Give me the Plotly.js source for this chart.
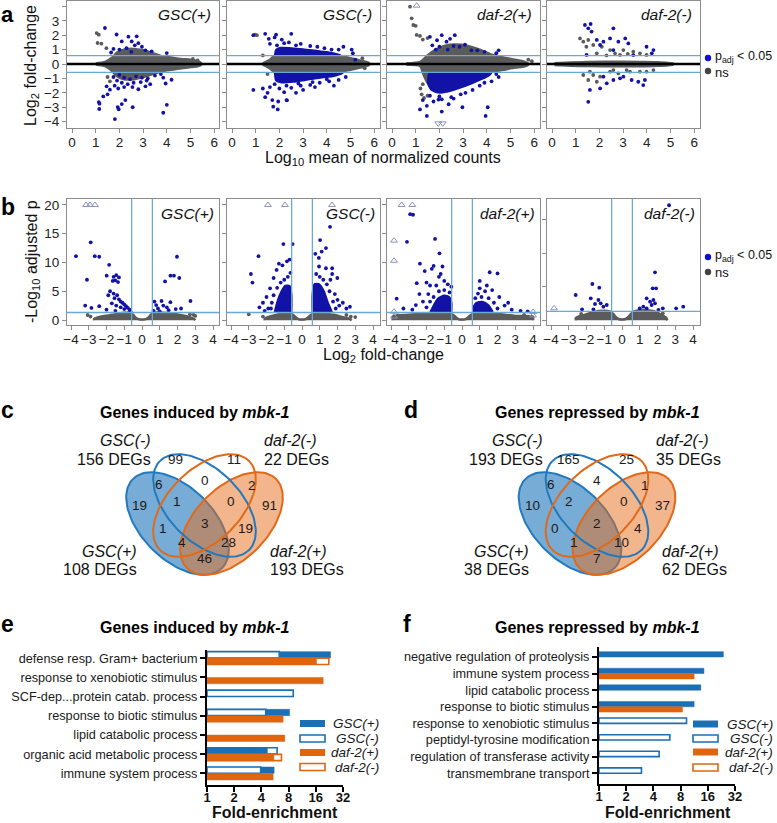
<!DOCTYPE html>
<html><head><meta charset="utf-8">
<script src="https://cdn.plot.ly/plotly-3.0.1.min.js"></script>
<style>body{margin:0;background:#fff}#chart{width:777px;height:823px}</style>
</head><body><div id="chart"></div>
<script>
// ---------------- DATA ----------------
const panelNames = ['GSC(+)', 'GSC(-)', 'daf-2(+)', 'daf-2(-)'];
const maTicks = [0, 1, 2, 3, 4, 5, 6];
const volcTicks = [-4, -3, -2, -1, 0, 1, 2, 3, 4];
const lfcCut = 0.585, padjCut = 1.301;

// MA plots: dense non-significant clouds (outline of the cloud), ns outliers, significant points
const maGscPlusCloud = [[1.0,0.04],[1.4,0.15],[1.7,0.45],[1.9,0.8],[2.2,1.0],[2.6,1.05],[3.0,0.95],[3.4,0.75],[3.8,0.55],[4.2,0.45],[4.6,0.35],[5.0,0.3],[5.3,0.2],[5.45,0.05],[5.45,-0.05],[5.3,-0.15],[5.0,-0.2],[4.6,-0.3],[4.2,-0.4],[3.8,-0.5],[3.4,-0.7],[3.0,-0.9],[2.6,-1.05],[2.2,-1.05],[1.9,-0.85],[1.7,-0.5],[1.4,-0.15],[1.0,-0.04]];
const maGscPlusNs = [[1.04,2.15],[1.13,2.04],[1.08,1.46],[1.24,1.41],[1.45,1.1],[1.6,-1.2],[1.5,-0.9],[5.1,0.35],[5.3,0.25]];
const maGscPlusSig = [[1.39,2.5],[1.88,2.05],[2.38,1.9],[2.73,1.92],[2.1,1.57],[2.52,1.57],[2.8,1.45],[2.65,1.3],[2.95,1.2],[1.75,1.05],[2.0,1.0],[2.3,1.1],[3.36,0.88],[4.0,0.76],[3.1,0.95],[2.5,0.85],[1.65,0.8],
 [1.75,-0.9],[2.0,-0.75],[2.2,-0.95],[2.45,-1.05],[2.7,-0.85],[2.95,-0.95],[3.2,-1.0],[3.5,-0.8],[3.75,-0.7],[2.1,-1.3],[2.35,-1.4],[2.6,-1.3],[2.9,-1.25],[3.15,-1.15],[3.3,-1.4],[3.85,-0.95],[1.9,-1.15],[4.2,-1.09],
 [1.46,-1.55],[1.6,-1.78],[1.8,-1.5],[1.95,-1.7],[2.2,-1.6],[2.55,-1.6],[2.8,-1.75],[3.1,-1.55],[3.95,-1.35],
 [1.32,-2.25],[1.5,-2.1],[1.13,-2.64],[1.16,-2.75],[1.15,-3.12],[1.93,-2.99],[1.97,-3.14],[2.1,-2.78],[2.25,-2.5],[2.56,-3.0],[3.85,-3.38],[4.0,-2.83],[1.81,-3.82]];

const maGscMinusCloud = [[1.3,0.04],[1.6,0.3],[1.8,0.58],[2.5,0.62],[3.5,0.62],[4.5,0.55],[5.0,0.4],[5.4,0.25],[5.75,0.1],[5.8,0.02],[5.8,-0.02],[5.75,-0.1],[5.4,-0.25],[5.0,-0.4],[4.5,-0.55],[3.5,-0.62],[2.5,-0.62],[1.8,-0.58],[1.6,-0.3],[1.3,-0.04]];
const maGscMinusSigBands = [
 [[1.8,0.62],[1.85,1.0],[2.05,1.15],[2.5,1.12],[3.0,1.05],[3.5,0.95],[4.0,0.85],[4.4,0.72],[4.6,0.62]],
 [[1.8,-0.62],[1.85,-1.15],[2.1,-1.3],[2.6,-1.25],[3.2,-1.1],[3.8,-0.95],[4.3,-0.85],[4.6,-0.7],[4.7,-0.62]]];
const maGscMinusNs = [[0.98,2.04],[1.05,2.0],[1.3,0.6],[1.5,-0.7],[5.5,0.4],[5.6,-0.3]];
const maGscMinusSig = [[0.9,2.0],[1.4,2.1],[1.86,2.04],[2.5,2.1],[1.55,1.75],[1.8,1.85],[2.1,1.7],[2.4,1.5],[2.9,1.4],[3.3,1.25],[3.9,1.1],[4.5,1.0],[5.05,1.0],[5.1,0.75],[5.2,0.3],[4.7,1.2],[1.6,1.4],[2.2,1.45],[2.7,1.3],[3.6,1.2],[4.2,1.0],[1.9,1.3],
 [0.9,-1.8],[1.3,-1.7],[1.4,-2.3],[1.7,-2.5],[1.95,-2.6],[2.3,-2.5],[1.74,-2.96],[1.93,-3.15],[2.32,-2.52],[1.6,-1.6],[2.0,-1.7],[2.5,-1.65],[2.9,-1.5],[3.3,-1.45],[3.7,-1.3],[4.1,-1.2],[4.5,-1.1],[2.7,-2.0],[2.2,-1.95],[3.0,-1.8],[3.5,-1.6],[4.3,-1.5],[4.8,-0.9],[1.5,-2.0],[1.8,-1.4],[2.3,-1.5],[2.8,-1.35],[3.4,-1.25],[4.0,-1.05]];

const maDafPlusCloud = [[0.6,0.04],[1.2,0.15],[1.5,0.6],[1.8,0.95],[2.2,1.25],[2.7,1.35],[3.2,1.25],[3.7,1.0],[4.2,0.65],[4.7,0.45],[5.2,0.3],[5.6,0.15],[5.75,0.03],[5.75,-0.03],[5.6,-0.15],[5.2,-0.25],[4.7,-0.4],[4.2,-0.55],[3.7,-0.7],[3.2,-0.9],[2.7,-1.1],[2.2,-1.3],[1.8,-1.5],[1.5,-1.3],[1.3,-0.6],[1.2,-0.15],[0.6,-0.04]];
const maDafPlusSigBands = [[[1.55,-0.62],[1.5,-1.3],[1.65,-1.8],[1.95,-2.0],[2.3,-1.95],[2.8,-1.7],[3.3,-1.4],[3.8,-1.05],[4.1,-0.8],[4.2,-0.62]]];
const maDafPlusNs = [[0.76,3.98],[0.83,3.17],[0.9,2.71],[1.0,2.65],[1.04,2.02],[1.18,1.95],[1.3,1.7],[1.5,1.8],[1.2,-1.7],[1.25,-2.1],[1.35,-2.35],[1.5,-2.2],[1.3,-1.4],[5.75,0.3],[5.9,0.2]];
const maDafPlusSig = [[1.6,1.89],[2.1,2.0],[2.65,2.0],[2.3,1.55],[1.9,1.65],[2.45,1.75],[3.08,1.34],[2.85,1.2],[2.6,1.25],[3.35,0.95],[3.6,0.95],[4.4,0.75],[4.5,0.95],[2.0,1.2],[2.35,1.0],[1.85,1.0],[3.9,0.85],[1.7,1.3],
 [1.18,-3.15],[1.47,-2.9],[1.47,-3.6],[1.96,-2.47],[2.1,-2.45],[2.1,-3.3],[2.39,-2.79],[2.97,-3.0],[3.95,-3.6],[4.04,-3.0],[1.3,-2.5],[1.75,-2.6],[2.6,-2.4],[3.1,-2.0],[3.4,-1.8],[3.7,-1.5],[4.2,-1.2],[4.5,-0.9],[2.5,-2.3],[1.6,-2.2],[2.0,-2.25],[2.9,-2.1],[3.9,-1.3],[4.4,-0.7]];
const maDafPlusOffUp = [[1.04,4.05]];
const maDafPlusOffDown = [[1.95,-4.12],[2.14,-4.12]];

const maDafMinusCloud = [[0.1,0.06],[1.5,0.14],[3.0,0.16],[4.5,0.12],[5.1,0.04],[5.1,-0.04],[4.5,-0.12],[3.0,-0.16],[1.5,-0.14],[0.1,-0.06]];
const maDafMinusNs = [[1.18,1.78],[1.32,1.55],[1.53,1.67],[1.74,1.32],[2.1,1.2],[2.45,0.97],[2.66,0.74],[3.01,0.97],[3.43,0.86],[3.71,0.74],[3.99,0.63],[2.87,0.63],[1.89,0.74],[1.32,-0.76],[1.6,-0.53],[1.74,-0.76],[2.03,-0.88],[2.45,-0.53],[2.8,-0.65],[3.29,-0.53],[3.71,-0.53],[3.99,-0.53],[4.28,-0.42],[1.53,-1.11],[1.89,-1.23],[2.59,-0.42],[3.15,-0.42],[2.3,0.6],[3.2,0.7],[1.45,1.2]];
const maDafMinusSig = [[1.39,2.71],[1.53,2.48],[1.63,2.78],[1.67,2.25],[2.59,2.48],[1.89,1.67],[2.17,1.55],[2.45,1.78],[2.8,1.55],[3.09,1.78],[3.22,1.43],[2.03,1.32],[3.99,1.2],[4.28,0.97],[4.21,0.74],[3.43,0.62],[1.46,0.63],[2.59,0.97],
 [1.6,-1.8],[2.03,-1.69],[2.31,-1.34],[2.59,-1.11],[2.87,-0.99],[3.36,-1.11],[3.64,-1.23],[3.85,-1.46],[3.92,-1.11],[1.53,-2.62],[3.01,-0.88],[2.17,-0.88]];

// Volcano plots
const vGscPlusCloud = [[-2.7,-0.05],[-2.7,0.2],[-2.5,0.45],[-2.0,0.75],[-1.5,1.0],[-1.0,1.25],[-0.7,1.3],[-0.5,0.9],[-0.35,0.4],[-0.2,0.15],[0,0.07],[0.2,0.15],[0.35,0.4],[0.5,0.9],[0.7,1.3],[1.2,1.25],[1.8,1.1],[2.3,0.8],[2.7,0.5],[2.95,0.15],[3.0,-0.05]];
const vGscPlusNs = [[-3.06,0.87],[-2.9,0.6],[2.9,0.9],[3.0,0.7],[2.7,1.0]];
const vGscPlusSig = [[-3.72,11.1],[-2.89,13.5],[-2.66,11.1],[-2.41,11.0],[-3.1,7.0],[-1.85,9.6],[-1.99,7.7],[-1.6,7.5],[-1.45,7.8],[-1.3,7.4],[-1.65,6.8],[-1.5,6.9],[-1.35,6.6],[-1.8,5.0],[-1.6,4.6],[-1.4,4.3],[-1.55,3.8],[-1.3,3.6],[-1.2,3.2],[-1.1,3.0],[-1.0,2.7],[-0.9,2.4],[-0.8,2.1],[-0.7,1.8],[-1.7,2.9],[-1.45,2.5],[-1.2,2.2],[-1.0,1.9],[-0.65,1.5],[-1.9,4.3],[-3.2,2.5],[-2.85,2.1],[-2.41,2.4],[-2.0,1.8],[-1.5,1.6],
 [1.3,6.7],[1.6,7.7],[1.8,7.7],[2.1,7.3],[1.97,11.0],[2.73,3.3],[0.7,3.2],[0.8,2.6],[0.9,2.0],[1.1,3.3],[1.2,2.5],[1.4,2.2],[1.6,3.1],[1.5,1.7],[0.65,1.6],[1.9,1.9],[2.2,2.0],[1.0,1.5]];
const vGscPlusOff = [[-3.15,20],[-2.93,20],[-2.65,20]];

const vGscMinusCloud = [[-2.1,-0.05],[-2.1,0.2],[-1.8,0.6],[-1.3,1.0],[-0.8,1.25],[-0.55,1.0],[-0.35,0.5],[-0.2,0.15],[0,0.07],[0.2,0.15],[0.35,0.5],[0.55,1.0],[0.8,1.25],[1.3,1.1],[1.8,0.9],[2.3,0.5],[2.7,0.2],[2.8,-0.05]];
const vGscMinusSigBands = [
 [[-0.58,1.4],[-0.58,4.5],[-0.7,6.0],[-0.95,6.0],[-1.2,4.8],[-1.4,3.2],[-1.55,1.4]],
 [[0.58,1.4],[0.58,4.5],[0.7,6.3],[0.95,6.3],[1.25,5.0],[1.45,3.2],[1.7,1.4]]];
const vGscMinusNs = [[-3.0,1.0],[-2.2,0.6],[2.5,0.87],[2.75,0.6],[3.0,0.5]];
const vGscMinusSig = [[-1.05,13.2],[-0.53,13.2],[-2.45,11.1],[-2.88,8.0],[-2.79,6.5],[-1.43,8.7],[-1.1,9.5],[-0.85,10.2],[-1.6,7.3],[-1.8,5.5],[-2.0,4.0],[-2.2,3.0],[-2.4,2.2],[-1.9,2.0],[-2.1,1.6],[-1.3,9.8],[-0.7,10.5],[-0.8,7.5],[-1.0,7.0],[-1.2,6.5],[-0.65,8.2],[-1.4,5.6],[-1.6,4.3],[-1.7,3.0],[-1.75,2.0],
 [1.58,16.2],[1.02,13.9],[1.11,11.9],[0.95,10.8],[0.96,9.3],[1.35,9.0],[1.7,9.0],[1.7,8.0],[1.6,7.0],[1.99,7.3],[2.7,2.3],[2.3,3.0],[2.5,2.0],[2.0,3.5],[1.85,4.5],[2.1,2.5],[1.35,12.5],[0.75,11.5],[0.8,8.0],[1.0,7.5],[1.2,7.0],[1.4,6.2],[1.55,5.0],[1.75,3.2],[1.9,2.0]];
const vGscMinusOff = [[-1.92,20],[-0.96,20],[1.69,20]];

const vDafPlusCloud = [[-3.9,-0.05],[-3.9,0.6],[-3.0,0.9],[-2.2,1.1],[-1.5,1.25],[-0.8,1.3],[-0.55,1.0],[-0.35,0.5],[-0.2,0.15],[0,0.07],[0.2,0.15],[0.35,0.5],[0.55,1.0],[0.8,1.3],[1.5,1.2],[2.2,1.0],[3.0,0.7],[4.0,0.6],[4.0,-0.05]];
const vDafPlusSigBands = [
 [[-0.58,1.4],[-0.58,3.0],[-0.7,4.0],[-1.0,4.3],[-1.35,3.8],[-1.6,2.6],[-1.8,1.4]],
 [[0.62,1.4],[0.62,2.2],[0.8,3.0],[1.15,3.2],[1.5,2.6],[1.75,1.4]]];
const vDafPlusNs = [[3.5,0.9],[3.8,0.5],[-3.6,0.8]];
const vDafPlusSig = [[-2.92,18.4],[-2.76,18.3],[-3.1,13.6],[-1.52,14.1],[-1.27,11.6],[-1.6,9.4],[-1.7,8.9],[-1.1,9.3],[-2.37,9.8],[-2.1,8.5],[-2.55,6.4],[-2.0,6.5],[-1.3,7.5],[-1.0,6.8],[-0.8,6.2],[-1.8,6.0],[-3.68,3.7],[-3.3,2.0],[-2.4,4.5],[-2.2,3.2],[-2.6,2.6],[-2.8,1.8],[-1.9,4.5],[-1.2,8.0],[-0.6,5.8],[-0.7,4.8],[-1.0,5.2],[-1.3,5.0],[-1.6,4.0],[-1.8,3.2],[-2.0,2.2],[-1.45,6.0],
 [1.0,6.8],[1.56,8.3],[2.0,8.1],[1.3,5.0],[1.0,5.5],[1.7,5.2],[2.1,4.0],[2.4,2.5],[2.6,3.0],[0.9,4.6],[1.4,6.0],[2.8,1.8],[3.3,1.6],[3.7,1.5],[0.75,3.8],[1.1,4.0],[1.5,3.8],[1.8,3.0],[2.0,2.0]];
const vDafPlusOff = [[-3.4,20],[-2.8,20],[-3.83,13.8],[-3.83,10.3],[-3.83,1.45],[-3.83,0.6],[4.0,1.4],[4.0,0.8]];

const vDafMinusCloud = [[-2.6,-0.05],[-2.6,0.3],[-2.2,0.7],[-1.6,1.2],[-1.0,1.4],[-0.7,1.3],[-0.5,0.9],[-0.35,0.45],[-0.2,0.15],[0,0.07],[0.2,0.15],[0.35,0.45],[0.5,0.9],[0.7,1.3],[1.2,1.45],[1.8,1.3],[2.2,0.8],[2.5,0.3],[2.55,-0.05]];
const vDafMinusNs = [[-2.3,0.9],[2.3,1.0]];
const vDafMinusSig = [[-1.67,5.4],[-2.61,3.75],[-1.28,4.85],[-1.76,3.25],[-1.33,3.0],[-1.2,2.5],[-1.52,2.4],[-1.05,2.0],[-0.86,2.25],[-1.61,1.6],[-2.25,1.6],
 [1.86,7.15],[1.73,4.75],[1.92,4.75],[1.39,3.25],[1.58,2.75],[1.77,3.0],[1.86,2.5],[1.2,2.0],[1.39,1.75],[1.67,2.25],[2.3,1.75],[3.05,1.75],[3.45,2.0],[1.0,1.75],[2.05,1.5],[2.65,17.2]];
const vDafMinusOff = [[-3.83,1.75]];

// Venn counts (region order: GSC(-) only, daf-2(-) only, GSC(-)&daf-2(-), GSC(+)&GSC(-), daf-2(-)&daf-2(+), GSC(+) only,
//  GSC(+)&GSC(-)&daf-2(-), GSC(-)&daf-2(-)&daf-2(+), daf-2(+) only, GSC(+)&daf-2(-), all four, GSC(-)&daf-2(+),
//  GSC(+)&daf-2(-)&daf-2(+), GSC(+)&GSC(-)&daf-2(+), GSC(+)&daf-2(+))
const vennInduced = [99, 11, 0, 6, 2, 19, 1, 0, 91, 1, 3, 19, 4, 28, 46];
const vennRepressed = [165, 25, 4, 6, 1, 10, 2, 0, 37, 0, 2, 4, 1, 10, 7];
const degInduced = {'GSC(-)': 156, 'daf-2(-)': 22, 'GSC(+)': 108, 'daf-2(+)': 193};
const degRepressed = {'GSC(-)': 193, 'daf-2(-)': 35, 'GSC(+)': 38, 'daf-2(+)': 62};

// GO enrichment (fold-enrichment)
const eTerms = ['defense resp. Gram+ bacterium', 'response to xenobiotic stimulus', 'SCF-dep...protein catab. process', 'response to biotic stimulus', 'lipid catabolic process', 'organic acid metabolic process', 'immune system process'];
const eGscPlus  = [23.3, null, null, 8.2, null, 4.66, 5.53];
const eGscMinus = [6.3, null, 9.0, 4.47, null, 5.97, 3.93];
const eDafPlus  = [16.3, 19.3, null, 6.96, 7.26, 5.5, 5.39];
const eDafMinus = [22.3, null, null, null, null, 6.67, null];

const fTerms = ['negative regulation of proteolysis', 'immune system process', 'lipid catabolic process', 'response to biotic stimulus', 'response to xenobiotic stimulus', 'peptidyl-tyrosine modification', 'regulation of transferase activity', 'transmembrane transport'];
const fGscPlus  = [23.8, 14.5, 13.4, 11.3, null, null, null, null];
const fGscMinus = [null, null, null, null, 9.3, 6.08, 4.63, 2.95];
const fDafPlus  = [null, 11.3, null, 8.4, null, null, null, null];
const fDafMinus = [null, null, null, null, null, null, null, null];
const foldTicks = [1, 2, 4, 8, 16, 32];

// ---------------- STYLE / LAYOUT ----------------
const W = 777, H = 823;
const PX = p => p / W, PY = p => 1 - p / H;
const FONT = 'Liberation Sans, Arial, sans-serif';
const SIG = '#1212a6', NS = '#5b5b5b', OFF = '#8a93b8', CUT = '#69a9d6';
const BLUE = '#1b6fb4', ORANGE = '#e0650f';
const VBLUE = '#2379bd', VORANGE = '#e06a1a';
const panelL = [67, 227, 387, 547], panelR = [219, 380, 540, 700];

const traces = [];
const shapes = [];
const annotations = [];
const layout = {
  width: W, height: H, margin: {l: 0, r: 0, t: 0, b: 0},
  paper_bgcolor: '#fff', plot_bgcolor: 'rgba(0,0,0,0)',
  showlegend: false, hovermode: false,
  font: {family: FONT, color: '#222'}
};

function ann(text, px, py, o) {
  o = o || {};
  annotations.push(Object.assign({text, x: PX(px), y: PY(py), xref: 'paper', yref: 'paper', showarrow: false,
    xanchor: 'center', yanchor: 'middle', font: {family: FONT, size: 14, color: '#1a1a1a'}}, o));
}
function poly(list, color, xa, ya, lw) {
  traces.push({type: 'scatter', mode: 'lines', x: list.map(p => p[0]), y: list.map(p => p[1]), fill: 'toself',
    fillcolor: color, line: {color, width: lw == null ? 2.5 : lw, shape: 'spline', smoothing: 0.6}, xaxis: xa, yaxis: ya, hoverinfo: 'skip'});
}
function dots(list, color, xa, ya, symbol, size) {
  const open = !!symbol;
  traces.push({type: 'scatter', mode: 'markers', x: list.map(p => p[0]), y: list.map(p => p[1]),
    marker: {color, size: size || 3.8, symbol: symbol || 'circle', line: {width: open ? 1 : 0, color}},
    xaxis: xa, yaxis: ya, hoverinfo: 'skip', cliponaxis: false});
}
function boxAxis(o) {
  return Object.assign({showline: true, mirror: true, linecolor: '#8c8c8c', linewidth: 1, ticks: 'outside', ticklen: 4,
    tickcolor: '#8c8c8c', zeroline: false, showgrid: false, fixedrange: true,
    tickfont: {family: FONT, size: 13.5, color: '#222'}}, o);
}

// ---- panel a (MA) and panel b (volcano) ----
const maSets = [
  {cloud: maGscPlusCloud, bands: [], ns: maGscPlusNs, sig: maGscPlusSig, up: [], down: []},
  {cloud: maGscMinusCloud, bands: maGscMinusSigBands, ns: maGscMinusNs, sig: maGscMinusSig, up: [], down: []},
  {cloud: maDafPlusCloud, bands: maDafPlusSigBands, ns: maDafPlusNs, sig: maDafPlusSig, up: maDafPlusOffUp, down: maDafPlusOffDown},
  {cloud: maDafMinusCloud, bands: [], ns: maDafMinusNs, sig: maDafMinusSig, up: [], down: []}];
const vSets = [
  {cloud: vGscPlusCloud, bands: [], ns: vGscPlusNs, sig: vGscPlusSig, off: vGscPlusOff},
  {cloud: vGscMinusCloud, bands: vGscMinusSigBands, ns: vGscMinusNs, sig: vGscMinusSig, off: vGscMinusOff},
  {cloud: vDafPlusCloud, bands: vDafPlusSigBands, ns: vDafPlusNs, sig: vDafPlusSig, off: vDafPlusOff},
  {cloud: vDafMinusCloud, bands: [], ns: vDafMinusNs, sig: vDafMinusSig, off: vDafMinusOff}];

for (let k = 0; k < 4; k++) {
  // MA
  const n = k + 1, xa = 'x' + (n === 1 ? '' : n), ya = 'y' + (n === 1 ? '' : n);
  const s = maSets[k];
  poly(s.cloud, NS, xa, ya);
  dots(s.ns, NS, xa, ya);
  s.bands.forEach(b => poly(b, SIG, xa, ya, 1.5));
  dots(s.sig, SIG, xa, ya);
  if (s.up.length) dots(s.up, OFF, xa, ya, 'triangle-up-open', 6);
  if (s.down.length) dots(s.down, OFF, xa, ya, 'triangle-down-open', 6);
  const lx = -5 / 23.7, rx = (panelR[k] - panelL[k] - 5) / 23.7;
  layout['xaxis' + (n === 1 ? '' : n)] = boxAxis({domain: [PX(panelL[k]), PX(panelR[k])], range: [lx, rx], tickvals: maTicks, anchor: ya, ticklabelstandoff: -2});
  layout['yaxis' + (n === 1 ? '' : n)] = boxAxis({domain: [PY(128), PY(1)], range: [-4.44, 4.375], dtick: 1, tick0: 0,
    showticklabels: k === 0, anchor: xa});
  shapes.push({type: 'line', xref: xa + ' domain', yref: ya, x0: 0, x1: 1, y0: lfcCut, y1: lfcCut, line: {color: CUT, width: 1.3}, layer: 'above'});
  shapes.push({type: 'line', xref: xa + ' domain', yref: ya, x0: 0, x1: 1, y0: -lfcCut, y1: -lfcCut, line: {color: CUT, width: 1.3}, layer: 'above'});
  shapes.push({type: 'line', xref: xa + ' domain', yref: ya, x0: 0, x1: 1, y0: 0, y1: 0, line: {color: '#000', width: 2.5}, layer: 'above'});
  ann('<i>' + panelNames[k] + '</i>', panelR[k] - 6, 15, {xanchor: 'right', font: {family: FONT, size: 15.5, color: '#111'}});

  // volcano
  const m = k + 5, xb = 'x' + m, yb = 'y' + m;
  const v = vSets[k];
  poly(v.cloud, NS, xb, yb);
  dots(v.ns, NS, xb, yb);
  v.bands.forEach(b => poly(b, SIG, xb, yb, 1.5));
  dots(v.sig, SIG, xb, yb);
  dots(v.off, OFF, xb, yb, 'triangle-up-open', 6);
  const zero = panelL[k] + 75;
  const yTop = k === 3 ? 18.14 : 21.04, yBot = k === 3 ? -0.75 : -0.87;
  layout['xaxis' + m] = boxAxis({domain: [PX(panelL[k]), PX(panelR[k])], range: [(panelL[k] - zero) / 17.75, (panelR[k] - zero) / 17.75], tickvals: volcTicks, anchor: yb, ticklabelstandoff: -2});
  layout['yaxis' + m] = boxAxis({domain: [PY(325), PY(199)], range: [yBot, yTop], dtick: 5, tick0: 0, showticklabels: k === 0, anchor: xb});
  shapes.push({type: 'line', xref: xb, yref: yb + ' domain', x0: lfcCut, x1: lfcCut, y0: 0, y1: 1, line: {color: CUT, width: 1.3}, layer: 'above'});
  shapes.push({type: 'line', xref: xb, yref: yb + ' domain', x0: -lfcCut, x1: -lfcCut, y0: 0, y1: 1, line: {color: CUT, width: 1.3}, layer: 'above'});
  shapes.push({type: 'line', xref: xb + ' domain', yref: yb, x0: 0, x1: 1, y0: padjCut, y1: padjCut, line: {color: CUT, width: 1.3}, layer: 'above'});
  ann('<i>' + panelNames[k] + '</i>', panelR[k] - 3, 213, {xanchor: 'right', font: {family: FONT, size: 15.5, color: '#111'}});
}

// legends of a & b
[[57, 72], [256, 273]].forEach(([yb, yg]) => {
  shapes.push({type: 'circle', xref: 'paper', yref: 'paper', xsizemode: 'pixel', ysizemode: 'pixel', xanchor: PX(708), yanchor: PY(yb + 1), x0: -3.2, x1: 3.2, y0: -3.2, y1: 3.2, fillcolor: '#0f0fd0', line: {width: 0}});
  shapes.push({type: 'circle', xref: 'paper', yref: 'paper', xsizemode: 'pixel', ysizemode: 'pixel', xanchor: PX(708), yanchor: PY(yg - 1), x0: -3.2, x1: 3.2, y0: -3.2, y1: 3.2, fillcolor: '#444', line: {width: 0}});
  ann('p<sub>adj</sub> &lt; 0.05', 713, yb, {xanchor: 'left', font: {family: FONT, size: 12.5, color: '#111'}});
  ann('ns', 713, yg, {xanchor: 'left', font: {family: FONT, size: 13, color: '#111'}});
});
// axis titles of a & b
ann('Log<sub>2</sub> fold-change', 32, 66, {textangle: -90, font: {family: FONT, size: 16, color: '#111'}});
ann('Log<sub>10</sub> mean of normalized counts', 383, 158, {font: {family: FONT, size: 16, color: '#111'}});
ann('-Log<sub>10</sub> adjusted p', 32, 262, {textangle: -90, font: {family: FONT, size: 16, color: '#111'}});
ann('Log<sub>2</sub> fold-change', 383, 356, {font: {family: FONT, size: 16, color: '#111'}});
// panel letters
ann('<b>a</b>', 7, 0, {yanchor: 'top', font: {family: FONT, size: 22, color: '#000'}});
[['b', 8, 207], ['c', 7, 410], ['d', 411, 410], ['e', 7, 624], ['f', 407, 624]].forEach(([t, x, y]) =>
  ann('<b>' + t + '</b>', x, y, {font: {family: FONT, size: 23, color: '#000'}}));

// ---- Venn diagrams (c, d) drawn in a pixel-coordinate overlay axis ----
layout.xaxis9 = {domain: [0, 1], range: [0, W], visible: false, fixedrange: true, anchor: 'y9'};
layout.yaxis9 = {domain: [PY(600), PY(395)], range: [600, 395], visible: false, fixedrange: true, anchor: 'x9'};
function ellipse(cx, cy, a, b, deg) {
  const th = deg * Math.PI / 180, xs = [], ys = [];
  for (let i = 0; i <= 120; i++) {
    const t = i / 120 * 2 * Math.PI;
    xs.push(cx + a * Math.cos(t) * Math.cos(th) - b * Math.sin(t) * Math.sin(th));
    ys.push(cy + a * Math.cos(t) * Math.sin(th) + b * Math.sin(t) * Math.cos(th));
  }
  return {xs, ys};
}
// offsets of the 15 region labels relative to the Venn centre (px)
const vennLabelPos = [[-29, -46], [29, -46], [0, -25], [-46, -21], [48, -20], [-65, 0], [-28, -4], [27, -4], [65, 0], [-42, 23], [0, 18], [41, 23], [-23, 37], [24, 37], [0, 53]];
function venn(cx, counts, deg) {
  const cy = 505.5, a = 63, b = 36;
  const specs = [
    [cx - 27, cy + 18, 45, 'rgba(35,121,189,0.62)', VBLUE],
    [cx + 27, cy + 18, -45, 'rgba(232,108,26,0.5)', VORANGE],
    [cx, cy, 45, null, VBLUE],
    [cx, cy, -45, null, VORANGE]];
  specs.forEach(([ex, ey, d, fill, col]) => {
    const e = ellipse(ex, ey, a, b, d);
    const tr = {type: 'scatter', mode: 'lines', x: e.xs, y: e.ys, xaxis: 'x9', yaxis: 'y9', line: {color: col, width: 2}, hoverinfo: 'skip'};
    if (fill) { tr.fill = 'toself'; tr.fillcolor = fill; }
    traces.push(tr);
  });
  counts.forEach((c, i) => ann(String(c), cx + vennLabelPos[i][0], cy + vennLabelPos[i][1], {font: {family: FONT, size: 13.5, color: '#1a1a1a'}}));
  const f16 = {family: FONT, size: 16, color: '#111'};
  ann('<i>GSC(-)</i>', cx - 52, 440, {xanchor: 'right', font: f16});
  ann(deg['GSC(-)'] + ' DEGs', cx - 52, 459, {xanchor: 'right', font: f16});
  ann('<i>daf-2(-)</i>', cx + 57, 440, {xanchor: 'left', font: f16});
  ann(deg['daf-2(-)'] + ' DEGs', cx + 57, 459, {xanchor: 'left', font: f16});
  ann('<i>GSC(+)</i>', cx - 66, 551, {xanchor: 'right', font: f16});
  ann(deg['GSC(+)'] + ' DEGs', cx - 66, 569, {xanchor: 'right', font: f16});
  ann('<i>daf-2(+)</i>', cx + 63, 551, {xanchor: 'left', font: f16});
  ann(deg['daf-2(+)'] + ' DEGs', cx + 63, 569, {xanchor: 'left', font: f16});
}
venn(204.5, vennInduced, degInduced);
venn(597, vennRepressed, degRepressed);
ann('<b>Genes induced by <i>mbk-1</i></b>', 194, 412, {font: {family: FONT, size: 16, color: '#000'}});
ann('<b>Genes repressed by <i>mbk-1</i></b>', 597, 412, {font: {family: FONT, size: 16, color: '#000'}});

// ---- GO bar charts (e, f) ----
function barPair(first, second, color, offset, xa, ya, width) {
  // first = filled series, second = outlined series; longer bar drawn underneath the shorter one
  const n = first.length;
  const mk = () => ({x: [], y: [], fill: [], line: [], lw: []});
  const under = mk(), over = mk();
  const style = (isFilled) => isFilled ? [color, color, 0.5] : ['#ffffff', color, 1.6];
  for (let i = 0; i < n; i++) {
    const a = first[i], b = second[i];
    const items = [];
    if (a != null) items.push([a, true]);
    if (b != null) items.push([b, false]);
    items.sort((p, q) => q[0] - p[0]);
    [under, over].forEach((t, j) => {
      const it = items[j];
      t.y.push(i + offset);
      if (it) { const st = style(it[1]); t.x.push(it[0] - 1); t.fill.push(st[0]); t.line.push(st[1]); t.lw.push(st[2]); }
      else { t.x.push(null); t.fill.push(color); t.line.push(color); t.lw.push(0); }
    });
  }
  [under, over].forEach(t => traces.push({type: 'bar', orientation: 'h', x: t.x, y: t.y, base: 1, width,
    marker: {color: t.fill, line: {color: t.line, width: t.lw}}, xaxis: xa, yaxis: ya, hoverinfo: 'skip'}));
}
function barAxes(n, xl, xr, yt, yb, terms, rangeTop, rangeBot) {
  layout['xaxis' + n] = {domain: [PX(xl), PX(xr)], type: 'log', range: [0, Math.log10(32)], tickvals: foldTicks, ticktext: foldTicks.map(String),
    showline: true, linecolor: '#000', linewidth: 2, ticks: 'outside', ticklen: 5, tickwidth: 2, tickcolor: '#000',
    showgrid: false, zeroline: false, fixedrange: true, anchor: 'y' + n, ticklabelstandoff: -6,
    tickfont: {family: FONT, size: 13, color: '#111', weight: 'bold'}};
  layout['yaxis' + n] = {domain: [PY(yb), PY(yt)], range: [rangeBot, rangeTop], tickvals: terms.map((t, i) => i), ticktext: terms,
    showline: true, linecolor: '#000', linewidth: 2, ticks: 'outside', ticklen: 5, tickwidth: 2, tickcolor: '#000',
    showgrid: false, zeroline: false, fixedrange: true, anchor: 'x' + n,
    tickfont: {family: FONT, size: 12.7, color: '#1a1a1a'}};
}
barPair(eGscPlus, eGscMinus, BLUE, -0.17, 'x10', 'y10', 0.33);
barPair(eDafPlus, eDafMinus, ORANGE, 0.17, 'x10', 'y10', 0.33);
barAxes(10, 207, 343, 650, 785, eTerms, -0.42, 6.6);
barPair(fGscPlus, fGscMinus, BLUE, -0.16, 'x11', 'y11', 0.32);
barPair(fDafPlus, fDafMinus, ORANGE, 0.16, 'x11', 'y11', 0.32);
barAxes(11, 599, 735, 647, 784, fTerms, -0.6, 7.65);
ann('<b>Genes induced by <i>mbk-1</i></b>', 194, 627, {font: {family: FONT, size: 16, color: '#000'}});
ann('<b>Genes repressed by <i>mbk-1</i></b>', 597, 627, {font: {family: FONT, size: 16, color: '#000'}});
ann('<b>Fold-enrichment</b>', 275, 823, {yanchor: 'bottom', font: {family: FONT, size: 16, color: '#111'}});
ann('<b>Fold-enrichment</b>', 668, 823, {yanchor: 'bottom', font: {family: FONT, size: 16, color: '#111'}});
// bar legends
const legItems = [['GSC(+)', BLUE, true], ['GSC(-)', BLUE, false], ['daf-2(+)', ORANGE, true], ['daf-2(-)', ORANGE, false]];
[[300, 381, [723.5, 738.5, 752.5, 767]], [693, 775, [724, 738.5, 752, 767.5]]].forEach(([x0, tx, ys]) => {
  legItems.forEach(([name, col, filled], i) => {
    shapes.push({type: 'rect', xref: 'paper', yref: 'paper', x0: PX(x0), x1: PX(x0 + 25), y0: PY(ys[i] + 3.5), y1: PY(ys[i] - 3.5),
      fillcolor: filled ? col : '#fff', line: {color: col, width: filled ? 0 : 1.6}});
    ann('<i>' + name + '</i>', tx, ys[i], {xanchor: 'right', font: {family: FONT, size: 13.5, color: '#1a1a1a'}});
  });
});

layout.shapes = shapes;
layout.annotations = annotations;
layout.barmode = 'overlay';
Plotly.newPlot('chart', traces, layout, {staticPlot: true, displayModeBar: false});
</script></body></html>
